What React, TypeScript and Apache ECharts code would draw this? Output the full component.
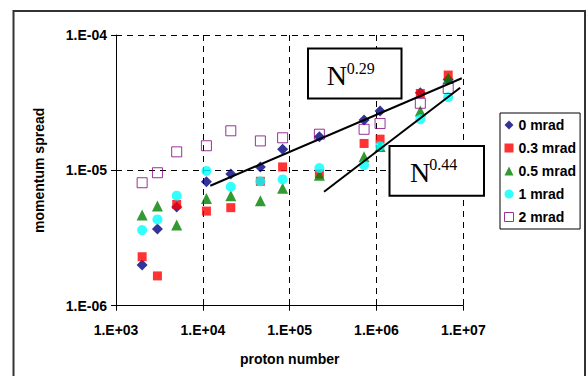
import React, { useEffect, useRef } from "react";
import * as echarts from "echarts";

const protonNumbers = [2000, 3000, 5000, 11000, 21000, 46000, 83000, 220000, 720000, 1100000, 3200000, 6700000];
const spread0 = [2.0e-6, 3.68e-6, 5.35e-6, 8.24e-6, 9.4e-6, 1.06e-5, 1.43e-5, 1.77e-5, 2.36e-5, 2.74e-5, 3.75e-5, 4.7e-5];
const spread03 = [2.3e-6, 1.66e-6, 5.6e-6, 5.0e-6, 5.3e-6, 8.3e-6, 1.06e-5, 9.4e-6, 1.58e-5, 1.7e-5, 3.7e-5, 5.06e-5];
const spread05 = [4.67e-6, 5.45e-6, 3.95e-6, 6.2e-6, 6.5e-6, 5.96e-6, 7.36e-6, 9.2e-6, 1.26e-5, 1.5e-5, 2.74e-5, 4.79e-5];
const spread1 = [3.62e-6, 4.34e-6, 6.5e-6, 9.9e-6, 7.57e-6, 8.3e-6, 8.57e-6, 1.04e-5, 1.09e-5, 1.51e-5, 2.39e-5, 3.47e-5];
const spread2 = [8.1e-6, 9.6e-6, 1.37e-5, 1.52e-5, 1.96e-5, 1.65e-5, 1.74e-5, 1.85e-5, 2.01e-5, 2.22e-5, 3.13e-5, 4.03e-5];

const seriesNames = ["0 mrad", "0.3 mrad", "0.5 mrad", "1 mrad", "2 mrad"];

const fit029X = [12200, 9.6e6];
const fit029Y = [7.7e-6, 4.79e-5];
const fit044X = [2.49e5, 9.2e6];
const fit044Y = [6.95e-6, 4.08e-5];

const xTickLabels = ["1.E+03", "1.E+04", "1.E+05", "1.E+06", "1.E+07"];
const yTickLabels = ["1.E-06", "1.E-05", "1.E-04"];

const exponent029 = "0.29";
const exponent044 = "0.44";

export default function App() {
  const ref = useRef<HTMLDivElement>(null);
  useEffect(() => {
    document.body.style.margin = "0";
    const chart = echarts.init(ref.current!, null, { renderer: "svg" });
    const labelFont = {
      fontFamily: "'Liberation Sans', Arial, sans-serif",
      fontWeight: "bold" as const,
      fontSize: 14,
      color: "#000",
    };
    const xFmt = (v: number) => xTickLabels[Math.round(Math.log10(v)) - 3] ?? "";
    const yFmt = (v: number) => yTickLabels[Math.round(Math.log10(v)) + 6] ?? "";
    const mk = (name: string, values: number[], symbol: string, size: number, itemStyle: any) => ({
      type: "scatter",
      name,
      data: protonNumbers.map((x, i) => [x, values[i]]),
      symbol,
      symbolSize: size,
      itemStyle,
      z: 3,
      silent: true,
    });
    const fit = (xs: number[], ys: number[]) => ({
      type: "line",
      data: xs.map((x, i) => [x, ys[i]]),
      showSymbol: false,
      symbol: "none",
      lineStyle: { color: "#000", width: 2 },
      z: 4,
      silent: true,
    });
    const colors = ["#000080", "#FF0000", "#008000", "#00FFFF", "#800080"];
    const serif = "'Liberation Serif', 'Times New Roman', serif";
    chart.setOption({
      animation: false,
      backgroundColor: "#fff",
      grid: { left: 116, top: 35, right: 122.7, bottom: 70.3 },
      xAxis: {
        type: "log",
        logBase: 10,
        min: 1000,
        max: 1e7,
        axisLine: { lineStyle: { color: "#000", width: 1 } },
        axisTick: { show: true, length: 5, lineStyle: { color: "#000" } },
        axisLabel: { ...labelFont, margin: 17, formatter: xFmt },
        splitLine: { show: true, lineStyle: { color: "#000", width: 1, type: [6, 5] } },
        name: "proton number",
        nameLocation: "middle",
        nameGap: 46,
        nameTextStyle: labelFont,
      },
      yAxis: {
        type: "log",
        logBase: 10,
        min: 1e-6,
        max: 1e-4,
        axisLine: { show: true, lineStyle: { color: "#000", width: 1 } },
        axisTick: { show: true, length: 5, lineStyle: { color: "#000" } },
        axisLabel: { ...labelFont, margin: 9, formatter: yFmt },
        splitLine: { show: true, lineStyle: { color: "#000", width: 1, type: [6, 5] } },
        name: "momentum spread",
        nameLocation: "middle",
        nameGap: 70,
        nameTextStyle: labelFont,
      },
      legend: {
        orient: "vertical",
        left: 500,
        top: 113,
        padding: [5, 4, 5, 4],
        itemGap: 9,
        itemWidth: 9,
        itemHeight: 9,
        borderColor: "#000",
        borderWidth: 1,
        selectedMode: false,
        textStyle: labelFont,
        data: [
          { name: seriesNames[0], icon: "diamond", itemStyle: { color: colors[0] } },
          { name: seriesNames[1], icon: "rect", itemStyle: { color: colors[1] } },
          { name: seriesNames[2], icon: "triangle", itemStyle: { color: colors[2] } },
          { name: seriesNames[3], icon: "circle", itemStyle: { color: colors[3] } },
          { name: seriesNames[4], icon: "rect", itemStyle: { color: "#fff", borderColor: colors[4], borderWidth: 1 } },
        ],
      },
      series: [
        mk(seriesNames[0], spread0, "diamond", 11, { color: colors[0] }),
        mk(seriesNames[1], spread03, "rect", 9, { color: colors[1] }),
        mk(seriesNames[2], spread05, "triangle", 11, { color: colors[2] }),
        mk(seriesNames[3], spread1, "circle", 10, { color: colors[3] }),
        mk(seriesNames[4], spread2, "rect", 10, { color: "rgba(255,255,255,0)", borderColor: colors[4], borderWidth: 1 }),
        fit(fit029X, fit029Y),
        fit(fit044X, fit044Y),
      ],
      graphic: [
        {
          type: "rect",
          shape: { x: 13.5, y: 11, width: 571.5, height: 380 },
          style: { fill: "none", stroke: "#333", lineWidth: 2 },
          z: 100,
        },
        {
          type: "rect",
          shape: { x: 308, y: 48.5, width: 93.5, height: 50 },
          style: { fill: "#fff", stroke: "#000", lineWidth: 2 },
          z: 100,
        },
        {
          type: "text",
          x: 326.7,
          y: 75,
          style: { text: "N", font: `28px ${serif}`, fill: "#000", align: "left", verticalAlign: "middle" },
          z: 101,
        },
        {
          type: "text",
          x: 346.7,
          y: 68.7,
          style: { text: exponent029, font: `16px ${serif}`, fill: "#000", align: "left", verticalAlign: "middle" },
          z: 101,
        },
        {
          type: "rect",
          shape: { x: 389.5, y: 146, width: 94.5, height: 49.7 },
          style: { fill: "#fff", stroke: "#000", lineWidth: 2 },
          z: 100,
        },
        {
          type: "text",
          x: 410,
          y: 172.5,
          style: { text: "N", font: `28px ${serif}`, fill: "#000", align: "left", verticalAlign: "middle" },
          z: 101,
        },
        {
          type: "text",
          x: 429.3,
          y: 164.3,
          style: { text: exponent044, font: `16px ${serif}`, fill: "#000", align: "left", verticalAlign: "middle" },
          z: 101,
        },
      ],
    });
    return () => chart.dispose();
  }, []);
  return <div ref={ref} style={{ width: 586, height: 376 }} />;
}
